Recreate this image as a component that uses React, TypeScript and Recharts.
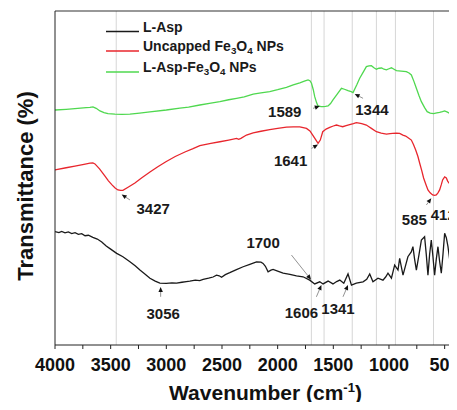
import React from "react";
import {
  LineChart,
  Line,
  XAxis,
  YAxis,
  ReferenceLine,
  ReferenceDot,
  Legend,
  Label,
} from "recharts";

const FONT = '"Liberation Sans", Arial, sans-serif';

// L-Asp (black)
const ASP_WN = [
  4000, 3965, 3940, 3910, 3880, 3850, 3820, 3790, 3760, 3730, 3700, 3660, 3620,
  3580, 3540, 3500, 3446, 3390, 3327, 3280, 3237, 3190, 3147, 3100, 3058, 3000,
  2950, 2908, 2860, 2820, 2789, 2740, 2700, 2669, 2620, 2580, 2549, 2525, 2504,
  2470, 2430, 2370, 2310, 2250, 2190, 2150, 2131, 2110, 2086, 2060, 2041, 2000,
  1951, 1890, 1831, 1772, 1712, 1667, 1622, 1592, 1547, 1503, 1470, 1442, 1406,
  1368, 1337, 1293, 1233, 1200, 1173, 1144, 1099, 1054, 1030, 1009, 978, 949,
  919, 904, 874, 830, 800, 785, 770, 754, 730, 709, 680, 665, 650, 635, 620, 605,
  590, 575, 560, 545, 530, 515, 500, 485, 470, 455, 440, 425, 410, 392, 380,
];
const ASP_T = [
  4.75, 4.71, 4.76, 4.7, 4.74, 4.67, 4.71, 4.64, 4.67, 4.58, 4.6, 4.51, 4.44,
  4.32, 4.15, 4.02, 3.84, 3.7, 3.49, 3.32, 3.14, 2.97, 2.8, 2.68, 2.59, 2.58,
  2.6, 2.59, 2.63, 2.66, 2.68, 2.72, 2.7, 2.75, 2.8, 2.85, 2.93, 2.9, 2.84,
  2.95, 3.03, 3.16, 3.28, 3.38, 3.48, 3.47, 3.42, 3.3, 3.07, 3.14, 3.17, 3.1,
  3.01, 2.96, 2.9, 2.86, 2.72, 2.56, 2.65, 2.56, 2.68, 2.56, 2.66, 2.72, 2.59,
  2.98, 2.51, 2.59, 2.65, 2.75, 2.98, 2.65, 2.8, 2.72, 2.85, 3.01, 2.8, 3.35,
  3.14, 3.63, 2.93, 3.7, 3.9, 4.12, 3.6, 3.14, 3.8, 4.4, 4.54, 3.8, 2.93, 3.8,
  4.4, 3.7, 2.93, 3.6, 4.12, 3.5, 3.01, 3.8, 4.68, 4.5, 4.12, 3.6, 3.14, 3.2,
  3.28, 3.14, 3.2,
];

// Uncapped Fe3O4 NPs (red)
const BARE_WN = [
  4000, 3900, 3821, 3740, 3686, 3660, 3641, 3600, 3551, 3520, 3488, 3460, 3435,
  3410, 3390, 3340, 3282, 3220, 3147, 3080, 3004, 2920, 2833, 2760, 2699, 2600,
  2519, 2440, 2369, 2350, 2330, 2280, 2220, 2150, 2071, 2000, 1921, 1860, 1801,
  1741, 1710, 1685, 1660, 1637, 1617, 1595, 1565, 1532, 1500, 1472, 1445, 1416,
  1385, 1353, 1320, 1293, 1268, 1245, 1203, 1180, 1158, 1113, 1070, 1023, 990,
  967, 935, 904, 875, 850, 825, 799, 780, 760, 740, 724, 705, 689, 670, 650, 630,
  608, 590, 575, 560, 545, 530, 518, 500, 485, 473, 450, 426, 400, 380,
];
const BARE_T = [
  7.34, 7.43, 7.5, 7.57, 7.62, 7.63, 7.59, 7.38, 7.08, 6.88, 6.71, 6.58, 6.5,
  6.48, 6.48, 6.62, 6.79, 7.01, 7.25, 7.46, 7.68, 7.9, 8.09, 8.23, 8.36, 8.45,
  8.52, 8.59, 8.66, 8.62, 8.66, 8.8, 8.89, 8.96, 9.03, 9.08, 9.13, 9.14, 9.14,
  9.08, 8.97, 8.8, 8.62, 8.45, 8.59, 8.94, 9.05, 9.12, 9.18, 9.22, 9.18, 9.15,
  9.2, 9.24, 9.28, 9.32, 9.3, 9.28, 9.22, 9.15, 9.08, 8.94, 8.88, 8.84, 8.86,
  8.87, 8.88, 8.87, 8.8, 8.76, 8.68, 8.59, 8.4, 8.17, 7.9, 7.62, 7.3, 7.0, 6.75,
  6.5, 6.38, 6.29, 6.27, 6.29, 6.38, 6.5, 6.72, 6.92, 7.05, 7.0, 6.87, 6.72,
  6.58, 6.47, 6.42,
];

// L-Asp-Fe3O4 NPs (green)
const CAP_WN = [
  4000, 3900, 3821, 3720, 3686, 3659, 3630, 3596, 3560, 3524, 3462, 3400, 3327,
  3240, 3147, 3000, 2878, 2800, 2699, 2600, 2519, 2440, 2369, 2300, 2220, 2150,
  2071, 2000, 1921, 1860, 1801, 1760, 1727, 1710, 1696, 1680, 1667, 1650, 1637,
  1610, 1592, 1570, 1547, 1525, 1503, 1465, 1427, 1400, 1368, 1340, 1323, 1290,
  1263, 1230, 1203, 1180, 1158, 1135, 1113, 1090, 1066, 1045, 1023, 1000, 978,
  955, 933, 890, 844, 820, 799, 776, 754, 730, 709, 680, 657, 630, 599, 570, 545,
  520, 500, 475, 455, 420, 392, 380,
];
const CAP_T = [
  9.85, 9.88, 9.91, 9.95, 9.96, 9.98, 9.92, 9.81, 9.74, 9.7, 9.68, 9.67, 9.68,
  9.72, 9.77, 9.85, 9.93, 9.97, 10.06, 10.14, 10.2, 10.28, 10.34, 10.4, 10.52,
  10.57, 10.62, 10.7, 10.8, 10.9, 10.99, 11.06, 11.11, 11.08, 10.97, 10.7, 10.41,
  10.15, 10.02, 9.99, 9.99, 10.0, 10.02, 10.12, 10.27, 10.52, 10.76, 10.72,
  10.66, 10.62, 10.58, 10.9, 11.18, 11.45, 11.67, 11.7, 11.71, 11.62, 11.56,
  11.6, 11.61, 11.56, 11.53, 11.58, 11.62, 11.56, 11.5, 11.48, 11.46, 11.4,
  11.32, 11.05, 10.76, 10.45, 10.2, 9.95, 9.78, 9.72, 9.7, 9.73, 9.75, 9.78,
  9.81, 9.76, 9.71, 9.68, 9.66, 9.66,
];

const SERIES_ORDER = ["L-Asp", "Uncapped Fe3O4 NPs", "L-Asp-Fe3O4 NPs"];

const X_TICKS = [
  4000, 3750, 3500, 3250, 3000, 2750, 2500, 2250, 2000, 1750, 1500, 1250, 1000,
  750, 500,
];
const Y_TICKS = [0, 1, 2, 3, 4, 5, 6, 7, 8, 9, 10, 11, 12, 13, 14];
const GUIDES = [3450, 1697, 1583, 1330, 1113, 942, 600, 430];

// peak annotations: label, text centre, arrow tail -> head
const PEAK_LABELS = ["1589", "1344", "1641", "3427", "3056", "1700", "1606", "1341", "585", "412"];
const PEAK_TEXT_X = [1936, 1153, 1884, 3118, 3028, 2131, 1786, 1458, 772, 512];
const PEAK_TEXT_Y = [9.78, 9.88, 7.73, 5.71, 1.31, 4.3, 1.36, 1.54, 5.27, 5.45];
const ARROW_X1 = [1682, 1233, 1696, 3327, 3051, 1876, 1652, 1413, 664, 440];
const ARROW_Y1 = [9.92, 10.34, 8.24, 6.08, 2.02, 3.77, 2.02, 2.02, 5.87, 6.22];
const ARROW_X2 = [1622, 1308, 1637, 3401, 3051, 1700, 1607, 1368, 620, 410];
const ARROW_Y2 = [10.02, 10.52, 8.4, 6.31, 2.43, 2.74, 2.51, 2.51, 6.15, 6.5];

const toRows = (wn: number[], t: number[]) => wn.map((w, i) => ({ w, t: t[i] }));
const aspData = toRows(ASP_WN, ASP_T);
const bareData = toRows(BARE_WN, BARE_T);
const capData = toRows(CAP_WN, CAP_T);

// digits in formulas become subscripts
function Formula({ text, size }: { text: string; size: number }) {
  const parts = text.split(/(\d)/).filter((p) => p !== "");
  let sub = false;
  return (
    <>
      {parts.map((p, i) => {
        const isDigit = /^\d$/.test(p);
        const dy = isDigit && !sub ? 3 : !isDigit && sub ? -3 : 0;
        sub = isDigit;
        return (
          <tspan key={i} dy={dy} fontSize={isDigit ? size * 0.7 : size}>
            {p}
          </tspan>
        );
      })}
    </>
  );
}

const Arrow = (props: any) => {
  const { x1, y1, x2, y2 } = props;
  const a = Math.atan2(y2 - y1, x2 - x1);
  const len = 5;
  const hw = 2.2;
  const bx = x2 - len * Math.cos(a);
  const by = y2 - len * Math.sin(a);
  const px = -Math.sin(a) * hw;
  const py = Math.cos(a) * hw;
  return (
    <g>
      <line x1={x1} y1={y1} x2={bx} y2={by} stroke="#777" strokeWidth={0.8} />
      <polygon
        points={`${x2},${y2} ${bx + px},${by + py} ${bx - px},${by - py}`}
        fill="#111"
      />
    </g>
  );
};

const PeakText = (text: string) => (props: any) => (
  <text
    x={props.cx}
    y={props.cy}
    dy="0.36em"
    textAnchor="middle"
    fontFamily={FONT}
    fontWeight={700}
    fontSize={15}
    fill="#1a1a1a"
  >
    {text}
  </text>
);

const renderLegend = (props: any) => {
  const items = [...(props.payload || [])].sort(
    (a: any, b: any) => SERIES_ORDER.indexOf(a.value) - SERIES_ORDER.indexOf(b.value),
  );
  return (
    <svg width={260} height={66} style={{ display: "block" }}>
      {items.map((it: any, i: number) => {
        const y = [11.5, 31, 52][i];
        return (
          <g key={i}>
            <line x1={6} x2={39} y1={y} y2={y} stroke={it.color} strokeWidth={1.5} />
            <text
              x={43}
              y={y}
              dy="0.36em"
              fontFamily={FONT}
              fontWeight={700}
              fontSize={14}
              fill="#1a1a1a"
            >
              <Formula text={it.value} size={14} />
            </text>
          </g>
        );
      })}
    </svg>
  );
};

export default function App() {
  return (
    <div
      style={{
        margin: -8,
        width: 457,
        height: 410,
        overflow: "hidden",
        background: "#fff",
        position: "relative",
      }}
    >
      <LineChart
        width={470}
        height={410}
        margin={{ top: 11, right: 12, left: 45, bottom: 15 }}
      >
        {GUIDES.map((g) => (
          <ReferenceLine key={g} x={g} stroke="#d6d6d6" strokeWidth={1} />
        ))}
        <ReferenceLine y={14} stroke="#333" strokeWidth={1.2} />
        <XAxis
          dataKey="w"
          type="number"
          domain={[380, 4000]}
          reversed
          allowDataOverflow
          ticks={X_TICKS}
          interval={0}
          tickFormatter={(v: number) => (v % 500 === 0 ? String(v) : "")}
          tickSize={4}
          tickMargin={9}
          stroke="#222"
          tick={{ fill: "#111", fontSize: 18, fontWeight: 700, fontFamily: FONT }}
          height={50}
        >
          <Label
            content={(p: any) => {
              const vb = p.viewBox;
              return (
                <text
                  x={vb.x + vb.width / 2 + 9}
                  y={vb.y + 55}
                  textAnchor="middle"
                  fontFamily={FONT}
                  fontWeight={700}
                  fontSize={21}
                  fill="#111"
                >
                  Wavenumber (cm
                  <tspan dy={-8} fontSize={13}>
                    -1
                  </tspan>
                  <tspan dy={8}>)</tspan>
                </text>
              );
            }}
          />
        </XAxis>
        <YAxis
          type="number"
          domain={[0, 14]}
          ticks={Y_TICKS}
          interval={0}
          tick={false}
          tickSize={4}
          width={10}
          stroke="#222"
        >
          <Label
            content={(p: any) => {
              const vb = p.viewBox;
              const cx = vb.x - 12;
              const cy = vb.y + vb.height / 2 + 8;
              return (
                <text
                  x={cx}
                  y={cy}
                  transform={`rotate(-90 ${cx} ${cy})`}
                  textAnchor="middle"
                  fontFamily={FONT}
                  fontWeight={700}
                  fontSize={22}
                  fill="#111"
                >
                  Transmittance (%)
                </text>
              );
            }}
          />
        </YAxis>
        <Legend
          layout="vertical"
          align="center"
          verticalAlign="middle"
          wrapperStyle={{ top: 20, left: 100, width: 260, height: 66 }}
          content={renderLegend}
        />
        <Line
          data={aspData}
          dataKey="t"
          name="L-Asp"
          stroke="#1a1a1a"
          strokeWidth={1.3}
          dot={false}
          isAnimationActive={false}
        />
        <Line
          data={bareData}
          dataKey="t"
          name="Uncapped Fe3O4 NPs"
          stroke="#e8262d"
          strokeWidth={1.3}
          dot={false}
          isAnimationActive={false}
        />
        <Line
          data={capData}
          dataKey="t"
          name="L-Asp-Fe3O4 NPs"
          stroke="#4fd84f"
          strokeWidth={1.3}
          dot={false}
          isAnimationActive={false}
        />
        {PEAK_LABELS.map((lab, i) => (
          <ReferenceLine
            key={"a" + lab}
            segment={[
              { x: ARROW_X1[i], y: ARROW_Y1[i] },
              { x: ARROW_X2[i], y: ARROW_Y2[i] },
            ]}
            shape={Arrow}
          />
        ))}
        {PEAK_LABELS.map((lab, i) => (
          <ReferenceDot
            key={"t" + lab}
            x={PEAK_TEXT_X[i]}
            y={PEAK_TEXT_Y[i]}
            r={1}
            ifOverflow="visible"
            shape={PeakText(lab)}
          />
        ))}
      </LineChart>
    </div>
  );
}
